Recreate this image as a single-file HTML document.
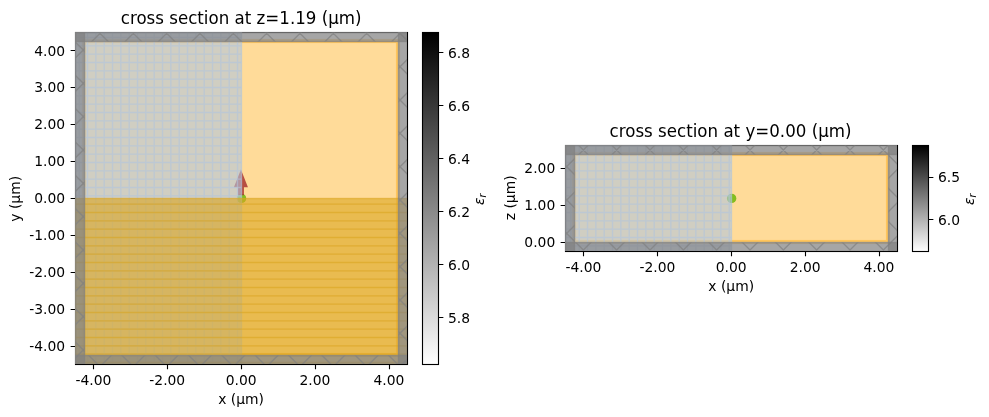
<!DOCTYPE html>
<html lang="en"><head><meta charset="utf-8"><title>cross sections</title>
<style>html,body{margin:0;padding:0;background:#fff}svg{display:block}text{font-family:"DejaVu Sans","Liberation Sans",sans-serif;fill:#000}.t10{font-size:13.889px}.t12{font-size:16.667px}.it{font-family:"DejaVu Sans","Liberation Sans",sans-serif;font-style:italic}</style>
</head><body>
<svg width="989" height="417" viewBox="0 0 989 417">
<defs><linearGradient id="cb" x1="0" y1="0" x2="0" y2="1"><stop offset="0" stop-color="#000"/><stop offset="1" stop-color="#fff"/></linearGradient></defs>
<rect width="989" height="417" fill="#fff"/>
<g id="plot1">
<defs><clipPath id="ax1"><rect x="75" y="32" width="332" height="332"/></clipPath>
<clipPath id="symx1" clip-path="url(#ax1)"><rect x="75.5" y="32.5" width="166" height="332"/></clipPath>
<clipPath id="pl1" clip-path="url(#ax1)"><rect x="75.5" y="32.5" width="9" height="332"/></clipPath>
<clipPath id="pr1" clip-path="url(#ax1)"><rect x="398.5" y="32.5" width="9" height="332"/></clipPath>
<clipPath id="pb1" clip-path="url(#ax1)"><rect x="75.5" y="355.5" width="332" height="9"/></clipPath>
<clipPath id="pt1" clip-path="url(#ax1)"><rect x="75.5" y="32.5" width="332" height="9"/></clipPath>
<clipPath id="symy1" clip-path="url(#ax1)"><rect x="75.5" y="198.5" width="332" height="166"/></clipPath>
</defs>
<rect x="75.5" y="32.5" width="332" height="332" fill="none" stroke="#000" stroke-width="1.111"/>
<path d="M93.5 364.5v4.86M167.5 364.5v4.86M241.5 364.5v4.86M315.5 364.5v4.86M389.5 364.5v4.86M75.5 346.5h-4.86M75.5 309.5h-4.86M75.5 272.5h-4.86M75.5 235.5h-4.86M75.5 198.5h-4.86M75.5 161.5h-4.86M75.5 124.5h-4.86M75.5 87.5h-4.86M75.5 50.5h-4.86" stroke="#000" stroke-width="1.111" fill="none"/>
<g clip-path="url(#ax1)">
<circle cx="241.53" cy="198.41" r="4.7" fill="#32cd32"/>
<rect x="84" y="41" width="314" height="314" fill="#ffa500" fill-opacity=".4" stroke="#ffa500" stroke-opacity=".4" stroke-width="4.167"/>
<polygon points="237.93,195.21 237.93,187.31 233.93,187.31 240.93,169.61 247.93,187.31 243.93,187.31 243.93,195.21" fill="#a52a2a" fill-opacity=".8"/>
<rect x="75.5" y="32.5" width="166" height="332" fill="#b0c4de" fill-opacity=".6"/>
<path clip-path="url(#symx1)" d="M79.17 32.5V364M87.5 32.5V364M95.83 32.5V364M104.17 32.5V364M112.5 32.5V364M120.83 32.5V364M129.17 32.5V364M137.5 32.5V364M145.83 32.5V364M154.17 32.5V364M162.5 32.5V364M170.83 32.5V364M179.17 32.5V364M187.5 32.5V364M195.83 32.5V364M204.17 32.5V364M212.5 32.5V364M220.83 32.5V364M229.17 32.5V364M237.5 32.5V364M75.5 37.5H241.5M75.5 45.83H241.5M75.5 54.17H241.5M75.5 62.5H241.5M75.5 70.83H241.5M75.5 79.17H241.5M75.5 87.5H241.5M75.5 95.83H241.5M75.5 104.17H241.5M75.5 112.5H241.5M75.5 120.83H241.5M75.5 129.17H241.5M75.5 137.5H241.5M75.5 145.83H241.5M75.5 154.17H241.5M75.5 162.5H241.5M75.5 170.83H241.5M75.5 179.17H241.5M75.5 187.5H241.5M75.5 195.83H241.5M75.5 204.17H241.5M75.5 212.5H241.5M75.5 220.83H241.5M75.5 229.17H241.5M75.5 237.5H241.5M75.5 245.83H241.5M75.5 254.17H241.5M75.5 262.5H241.5M75.5 270.83H241.5M75.5 279.17H241.5M75.5 287.5H241.5M75.5 295.83H241.5M75.5 304.17H241.5M75.5 312.5H241.5M75.5 320.83H241.5M75.5 329.17H241.5M75.5 337.5H241.5M75.5 345.83H241.5M75.5 354.17H241.5M75.5 362.5H241.5" fill="none" stroke="#b0c4de" stroke-opacity=".6" stroke-width="1.389"/>
<rect x="75.5" y="32.5" width="166" height="332" fill="none" stroke="#b0c4de" stroke-opacity=".6" stroke-width="1.389"/>
<rect x="75.5" y="198.5" width="332" height="166" fill="#daa520" fill-opacity=".6"/>
<path clip-path="url(#symy1)" d="M75.5 204.17H407M75.5 212.5H407M75.5 220.83H407M75.5 229.17H407M75.5 237.5H407M75.5 245.83H407M75.5 254.17H407M75.5 262.5H407M75.5 270.83H407M75.5 279.17H407M75.5 287.5H407M75.5 295.83H407M75.5 304.17H407M75.5 312.5H407M75.5 320.83H407M75.5 329.17H407M75.5 337.5H407M75.5 345.83H407M75.5 354.17H407M75.5 362.5H407" fill="none" stroke="#daa520" stroke-opacity=".6" stroke-width="1.389"/>
<rect x="75.5" y="198.5" width="332" height="166" fill="none" stroke="#daa520" stroke-opacity=".6" stroke-width="1.389"/>
<rect x="75.5" y="32.5" width="9" height="332" fill="#808080" fill-opacity=".7"/>
<path clip-path="url(#pl1)" d="M73.5 40.17L86.5 53.17M73.5 73.5L86.5 86.5M73.5 106.83L86.5 119.83M73.5 140.17L86.5 153.17M73.5 173.5L86.5 186.5M73.5 206.83L86.5 219.83M73.5 240.17L86.5 253.17M73.5 273.5L86.5 286.5M73.5 306.83L86.5 319.83M73.5 340.17L86.5 353.17M73.5 59.83L86.5 46.83M73.5 93.17L86.5 80.17M73.5 126.5L86.5 113.5M73.5 159.83L86.5 146.83M73.5 193.17L86.5 180.17M73.5 226.5L86.5 213.5M73.5 259.83L86.5 246.83M73.5 293.17L86.5 280.17M73.5 326.5L86.5 313.5M73.5 359.83L86.5 346.83" fill="none" stroke="#808080" stroke-opacity=".7" stroke-width="1.389"/>
<rect x="75.5" y="32.5" width="9" height="332" fill="none" stroke="#808080" stroke-opacity=".7" stroke-width="1.389"/>
<rect x="398.5" y="32.5" width="9" height="332" fill="#808080" fill-opacity=".7"/>
<path clip-path="url(#pr1)" d="M397.17 30.5L409 42.33M396.5 63.17L409 75.67M396.5 96.5L409 109M396.5 129.83L409 142.33M396.5 163.17L409 175.67M396.5 196.5L409 209M396.5 229.83L409 242.33M396.5 263.17L409 275.67M396.5 296.5L409 309M396.5 329.83L409 342.33M396.5 363.17L399.33 366M396.5 36.83L402.83 30.5M396.5 70.17L409 57.67M396.5 103.5L409 91M396.5 136.83L409 124.33M396.5 170.17L409 157.67M396.5 203.5L409 191M396.5 236.83L409 224.33M396.5 270.17L409 257.67M396.5 303.5L409 291M396.5 336.83L409 324.33M400.67 366L409 357.67" fill="none" stroke="#808080" stroke-opacity=".7" stroke-width="1.389"/>
<rect x="398.5" y="32.5" width="9" height="332" fill="none" stroke="#808080" stroke-opacity=".7" stroke-width="1.389"/>
<rect x="75.5" y="355.5" width="332" height="9" fill="#808080" fill-opacity=".7"/>
<path clip-path="url(#pb1)" d="M386.83 353.5L399.33 366M353.5 353.5L366 366M320.17 353.5L332.67 366M286.83 353.5L299.33 366M253.5 353.5L266 366M220.17 353.5L232.67 366M186.83 353.5L199.33 366M153.5 353.5L166 366M120.17 353.5L132.67 366M86.83 353.5L99.33 366M73.5 359.83L79.83 353.5M100.67 366L113.17 353.5M134 366L146.5 353.5M167.33 366L179.83 353.5M200.67 366L213.17 353.5M234 366L246.5 353.5M267.33 366L279.83 353.5M300.67 366L313.17 353.5M334 366L346.5 353.5M367.33 366L379.83 353.5M400.67 366L409 357.67" fill="none" stroke="#808080" stroke-opacity=".7" stroke-width="1.389"/>
<rect x="75.5" y="355.5" width="332" height="9" fill="none" stroke="#808080" stroke-opacity=".7" stroke-width="1.389"/>
<rect x="75.5" y="32.5" width="332" height="9" fill="#808080" fill-opacity=".7"/>
<path clip-path="url(#pt1)" d="M397.17 30.5L409 42.33M363.83 30.5L376.83 43.5M330.5 30.5L343.5 43.5M297.17 30.5L310.17 43.5M263.83 30.5L276.83 43.5M230.5 30.5L243.5 43.5M197.17 30.5L210.17 43.5M163.83 30.5L176.83 43.5M130.5 30.5L143.5 43.5M97.17 30.5L110.17 43.5M73.5 40.17L76.83 43.5M89.83 43.5L102.83 30.5M123.17 43.5L136.17 30.5M156.5 43.5L169.5 30.5M189.83 43.5L202.83 30.5M223.17 43.5L236.17 30.5M256.5 43.5L269.5 30.5M289.83 43.5L302.83 30.5M323.17 43.5L336.17 30.5M356.5 43.5L369.5 30.5M389.83 43.5L402.83 30.5" fill="none" stroke="#808080" stroke-opacity=".7" stroke-width="1.389"/>
<rect x="75.5" y="32.5" width="332" height="9" fill="none" stroke="#808080" stroke-opacity=".7" stroke-width="1.389"/>
</g>
<rect x="422.5" y="32.5" width="16" height="332" fill="url(#cb)" stroke="#000" stroke-width="1.111"/>
<path d="M438.5 317.5h4.86M438.5 264.5h4.86M438.5 211.5h4.86M438.5 158.5h4.86M438.5 105.5h4.86M438.5 52.5h4.86" stroke="#000" stroke-width="1.111" fill="none"/>
<text class="t12" transform="translate(241.13 24) scale(1 1.075)" text-anchor="middle">cross section at z=1.19 (μm)</text>
<text class="t10" x="241.13" y="404" text-anchor="middle">x (μm)</text>
<text class="t10" transform="translate(20 198.81) rotate(-90)" text-anchor="middle">y (μm)</text>
<text class="t10" x="93.37" y="385" text-anchor="middle">-4.00</text>
<text class="t10" x="167.25" y="385" text-anchor="middle">-2.00</text>
<text class="t10" x="241.13" y="385" text-anchor="middle">0.00</text>
<text class="t10" x="315.01" y="385" text-anchor="middle">2.00</text>
<text class="t10" x="388.89" y="385" text-anchor="middle">4.00</text>
<text class="t10" x="65.18" y="351" text-anchor="end">-4.00</text>
<text class="t10" x="65.18" y="314" text-anchor="end">-3.00</text>
<text class="t10" x="65.18" y="277" text-anchor="end">-2.00</text>
<text class="t10" x="65.18" y="240" text-anchor="end">-1.00</text>
<text class="t10" x="65.18" y="203" text-anchor="end">0.00</text>
<text class="t10" x="65.18" y="166" text-anchor="end">1.00</text>
<text class="t10" x="65.18" y="129" text-anchor="end">2.00</text>
<text class="t10" x="65.18" y="92" text-anchor="end">3.00</text>
<text class="t10" x="65.18" y="56" text-anchor="end">4.00</text>
<text class="t10" x="448" y="323">5.8</text>
<text class="t10" x="448" y="270">6.0</text>
<text class="t10" x="448" y="217">6.2</text>
<text class="t10" x="448" y="164">6.4</text>
<text class="t10" x="448" y="111">6.6</text>
<text class="t10" x="448" y="58">6.8</text>
<text class="t10 it" transform="translate(484 199.31) rotate(-90)" text-anchor="middle">ε<tspan dy="2.2" font-size="9.72px">r</tspan></text>
</g>
<g id="plot2">
<defs><clipPath id="ax2"><rect x="565" y="145" width="332" height="106"/></clipPath>
<clipPath id="symx2" clip-path="url(#ax2)"><rect x="565.5" y="145.5" width="166" height="106"/></clipPath>
<clipPath id="pl2" clip-path="url(#ax2)"><rect x="565.5" y="145.5" width="9" height="106"/></clipPath>
<clipPath id="pr2" clip-path="url(#ax2)"><rect x="888.5" y="145.5" width="9" height="106"/></clipPath>
<clipPath id="pb2" clip-path="url(#ax2)"><rect x="565.5" y="242.5" width="332" height="9"/></clipPath>
<clipPath id="pt2" clip-path="url(#ax2)"><rect x="565.5" y="145.5" width="332" height="9"/></clipPath>
</defs>
<rect x="565.5" y="145.5" width="332" height="106" fill="none" stroke="#000" stroke-width="1.111"/>
<path d="M583.5 251.5v4.86M657.5 251.5v4.86M731.5 251.5v4.86M805.5 251.5v4.86M879.5 251.5v4.86M565.5 242.5h-4.86M565.5 205.5h-4.86M565.5 168.5h-4.86" stroke="#000" stroke-width="1.111" fill="none"/>
<g clip-path="url(#ax2)">
<circle cx="731.63" cy="198.41" r="4.7" fill="#32cd32"/>
<rect x="574" y="154" width="314" height="88" fill="#ffa500" fill-opacity=".4" stroke="#ffa500" stroke-opacity=".4" stroke-width="4.167"/>
<rect x="565.5" y="145.5" width="166" height="106" fill="#b0c4de" fill-opacity=".6"/>
<path clip-path="url(#symx2)" d="M570.83 145.5V251M579.17 145.5V251M587.5 145.5V251M595.83 145.5V251M604.17 145.5V251M612.5 145.5V251M620.83 145.5V251M629.17 145.5V251M637.5 145.5V251M645.83 145.5V251M654.17 145.5V251M662.5 145.5V251M670.83 145.5V251M679.17 145.5V251M687.5 145.5V251M695.83 145.5V251M704.17 145.5V251M712.5 145.5V251M720.83 145.5V251M729.17 145.5V251M565.5 145.83H731.5M565.5 154.17H731.5M565.5 162.5H731.5M565.5 170.83H731.5M565.5 179.17H731.5M565.5 187.5H731.5M565.5 195.83H731.5M565.5 204.17H731.5M565.5 212.5H731.5M565.5 220.83H731.5M565.5 229.17H731.5M565.5 237.5H731.5M565.5 245.83H731.5" fill="none" stroke="#b0c4de" stroke-opacity=".6" stroke-width="1.389"/>
<rect x="565.5" y="145.5" width="166" height="106" fill="none" stroke="#b0c4de" stroke-opacity=".6" stroke-width="1.389"/>
<rect x="565.5" y="145.5" width="9" height="106" fill="#808080" fill-opacity=".7"/>
<path clip-path="url(#pl2)" d="M563.5 163.5L576.5 176.5M563.5 196.83L576.5 209.83M563.5 230.17L576.5 243.17M563.5 169.83L576.5 156.83M563.5 203.17L576.5 190.17M563.5 236.5L576.5 223.5" fill="none" stroke="#808080" stroke-opacity=".7" stroke-width="1.389"/>
<rect x="565.5" y="145.5" width="9" height="106" fill="none" stroke="#808080" stroke-opacity=".7" stroke-width="1.389"/>
<rect x="888.5" y="145.5" width="9" height="106" fill="#808080" fill-opacity=".7"/>
<path clip-path="url(#pr2)" d="M886.5 153.17L899 165.67M886.5 186.5L899 199M886.5 219.83L899 232.33M886.5 146.83L889.83 143.5M886.5 180.17L899 167.67M886.5 213.5L899 201M886.5 246.83L899 234.33" fill="none" stroke="#808080" stroke-opacity=".7" stroke-width="1.389"/>
<rect x="888.5" y="145.5" width="9" height="106" fill="none" stroke="#808080" stroke-opacity=".7" stroke-width="1.389"/>
<rect x="565.5" y="242.5" width="332" height="9" fill="#808080" fill-opacity=".7"/>
<path clip-path="url(#pb2)" d="M873.83 240.5L886.33 253M840.5 240.5L853 253M807.17 240.5L819.67 253M773.83 240.5L786.33 253M740.5 240.5L753 253M707.17 240.5L719.67 253M673.83 240.5L686.33 253M640.5 240.5L653 253M607.17 240.5L619.67 253M573.83 240.5L586.33 253M580.33 253L592.83 240.5M613.67 253L626.17 240.5M647 253L659.5 240.5M680.33 253L692.83 240.5M713.67 253L726.17 240.5M747 253L759.5 240.5M780.33 253L792.83 240.5M813.67 253L826.17 240.5M847 253L859.5 240.5M880.33 253L892.83 240.5" fill="none" stroke="#808080" stroke-opacity=".7" stroke-width="1.389"/>
<rect x="565.5" y="242.5" width="332" height="9" fill="none" stroke="#808080" stroke-opacity=".7" stroke-width="1.389"/>
<rect x="565.5" y="145.5" width="332" height="9" fill="#808080" fill-opacity=".7"/>
<path clip-path="url(#pt2)" d="M876.83 143.5L889.83 156.5M843.5 143.5L856.5 156.5M810.17 143.5L823.17 156.5M776.83 143.5L789.83 156.5M743.5 143.5L756.5 156.5M710.17 143.5L723.17 156.5M676.83 143.5L689.83 156.5M643.5 143.5L656.5 156.5M610.17 143.5L623.17 156.5M576.83 143.5L589.83 156.5M576.83 156.5L589.83 143.5M610.17 156.5L623.17 143.5M643.5 156.5L656.5 143.5M676.83 156.5L689.83 143.5M710.17 156.5L723.17 143.5M743.5 156.5L756.5 143.5M776.83 156.5L789.83 143.5M810.17 156.5L823.17 143.5M843.5 156.5L856.5 143.5M876.83 156.5L889.83 143.5" fill="none" stroke="#808080" stroke-opacity=".7" stroke-width="1.389"/>
<rect x="565.5" y="145.5" width="332" height="9" fill="none" stroke="#808080" stroke-opacity=".7" stroke-width="1.389"/>
</g>
<rect x="912.5" y="145.5" width="16" height="106" fill="url(#cb)" stroke="#000" stroke-width="1.111"/>
<path d="M928.5 219.5h4.86M928.5 177.5h4.86" stroke="#000" stroke-width="1.111" fill="none"/>
<text class="t12" transform="translate(730.53 137) scale(1 1.075)" text-anchor="middle">cross section at y=0.00 (μm)</text>
<text class="t10" x="731.23" y="291" text-anchor="middle">x (μm)</text>
<text class="t10" transform="translate(515 197.81) rotate(-90)" text-anchor="middle">z (μm)</text>
<text class="t10" x="583.47" y="272" text-anchor="middle">-4.00</text>
<text class="t10" x="657.35" y="272" text-anchor="middle">-2.00</text>
<text class="t10" x="731.23" y="272" text-anchor="middle">0.00</text>
<text class="t10" x="805.11" y="272" text-anchor="middle">2.00</text>
<text class="t10" x="878.99" y="272" text-anchor="middle">4.00</text>
<text class="t10" x="555.28" y="247" text-anchor="end">0.00</text>
<text class="t10" x="555.28" y="210" text-anchor="end">1.00</text>
<text class="t10" x="555.28" y="173" text-anchor="end">2.00</text>
<text class="t10" x="938" y="225">6.0</text>
<text class="t10" x="938" y="182">6.5</text>
<text class="t10 it" transform="translate(974 199.31) rotate(-90)" text-anchor="middle">ε<tspan dy="2.2" font-size="9.72px">r</tspan></text>
</g>
</svg></body></html>
